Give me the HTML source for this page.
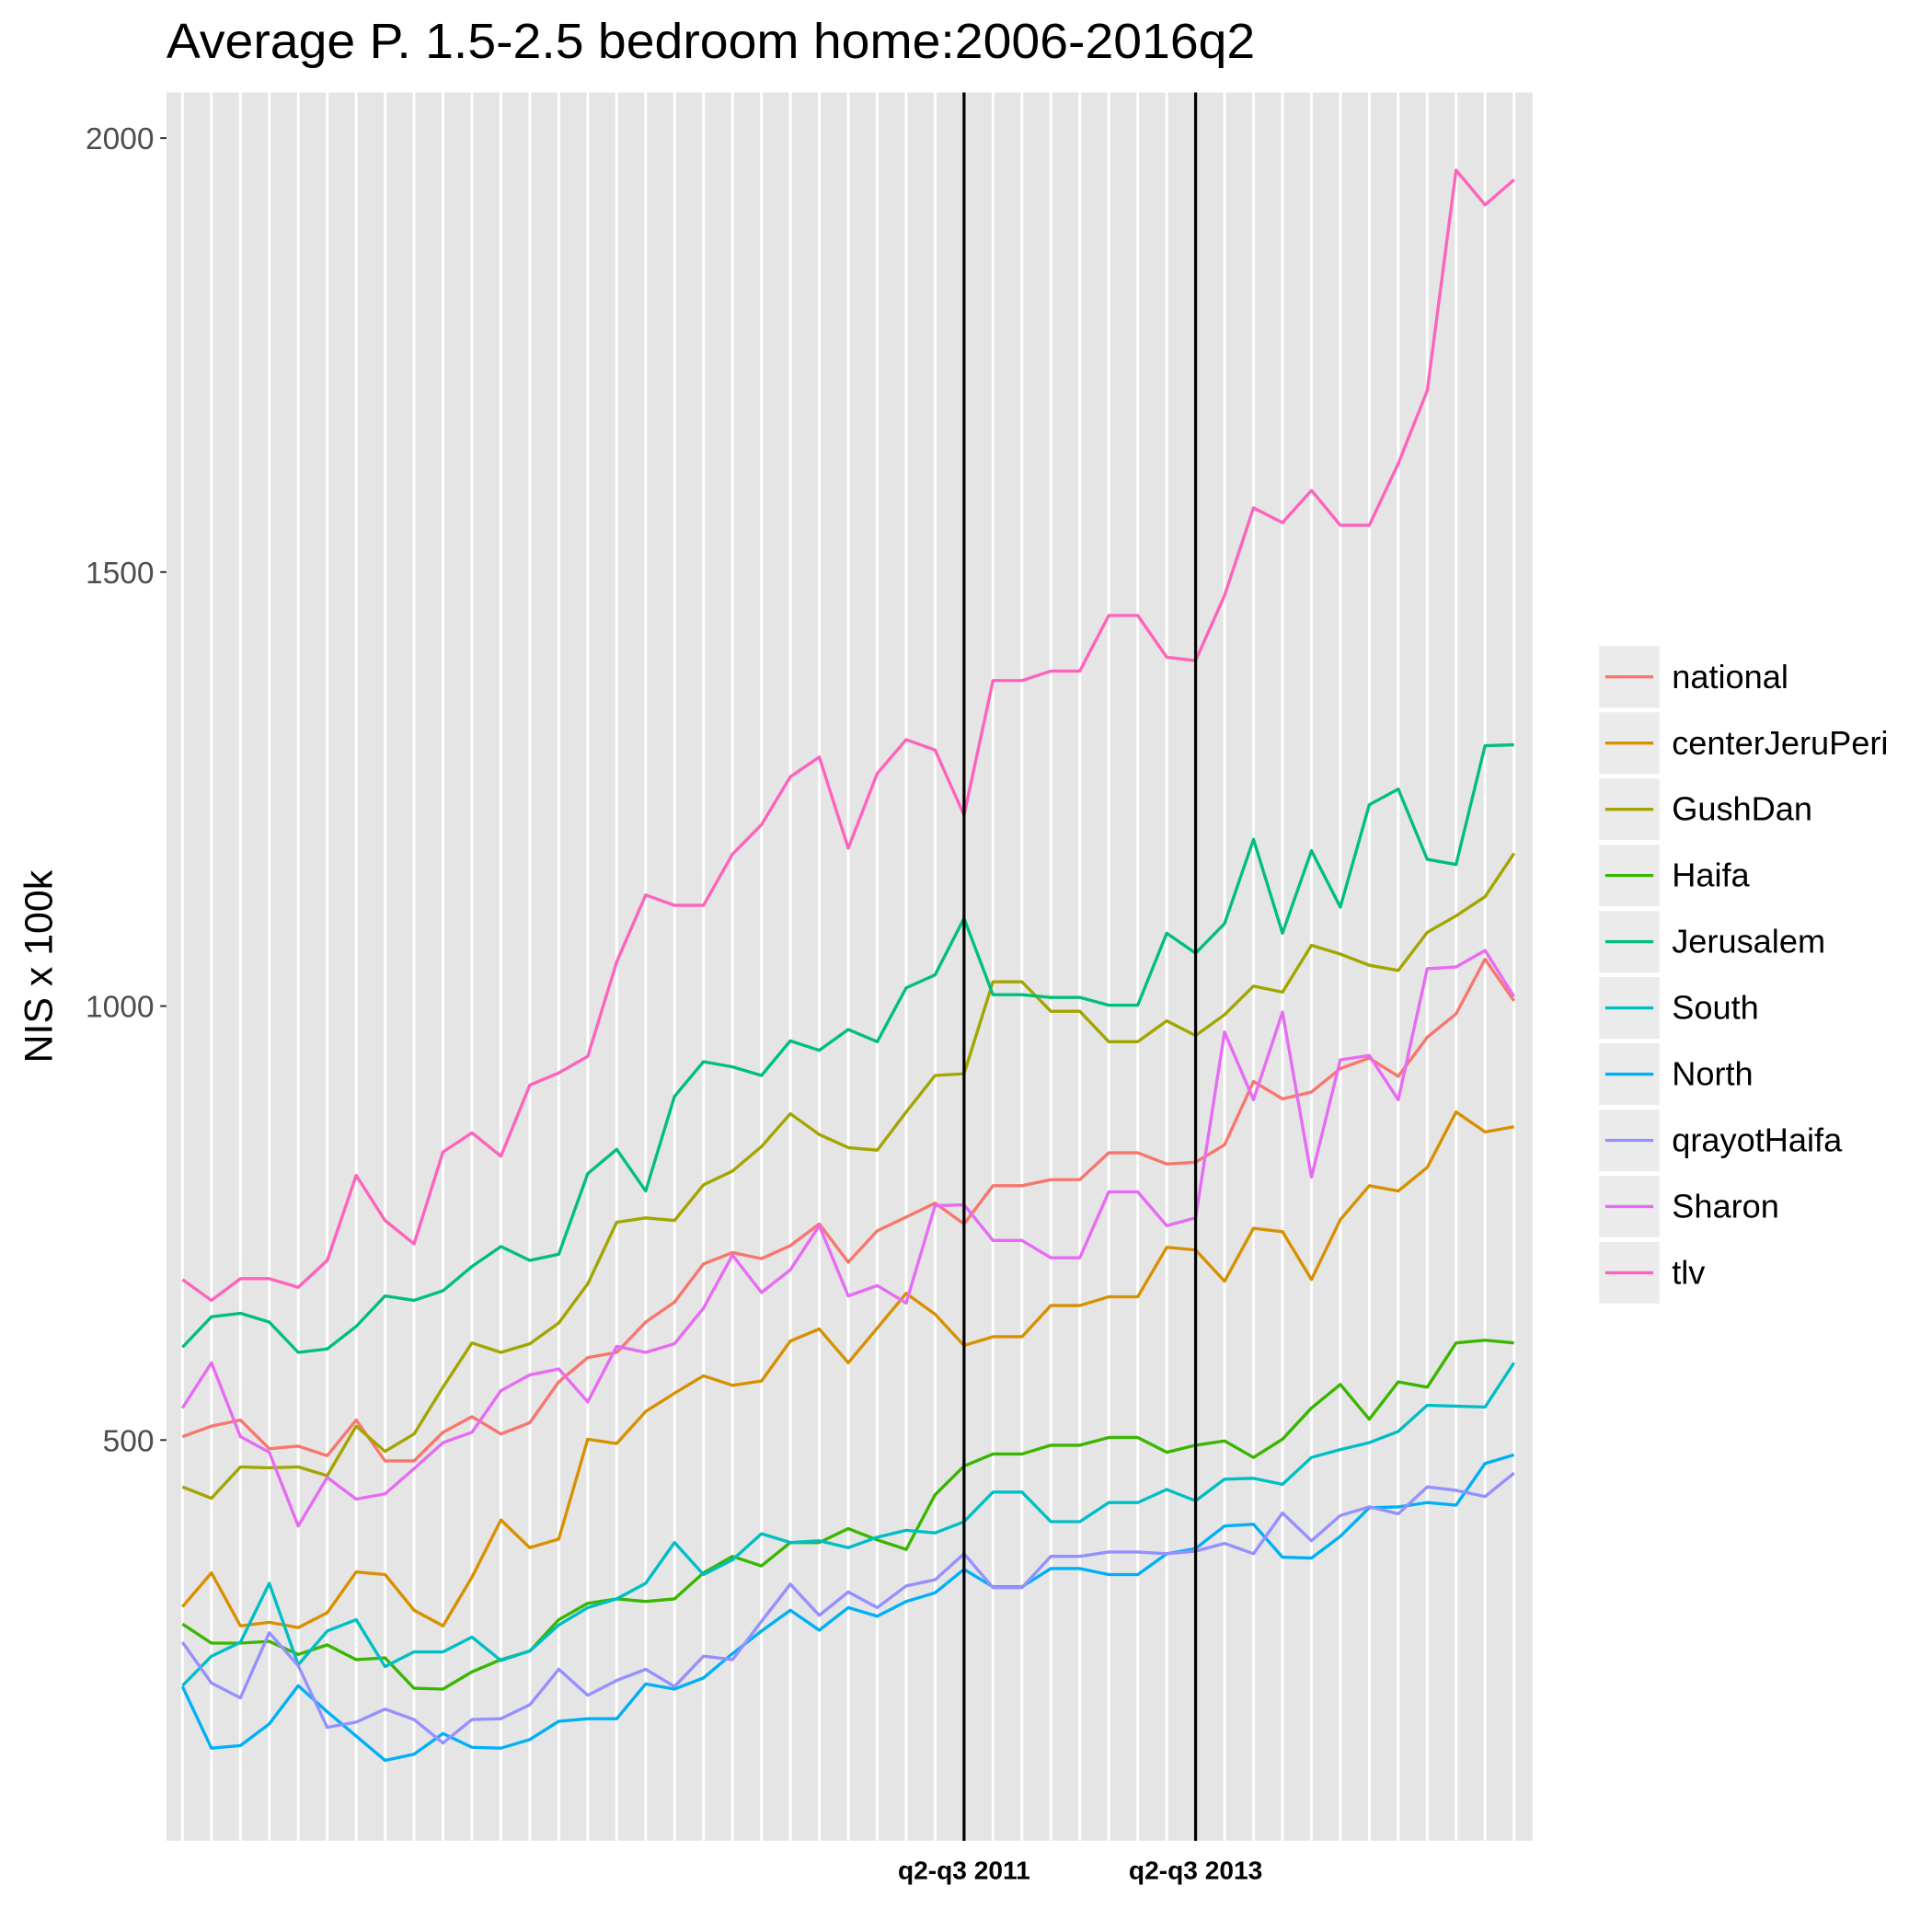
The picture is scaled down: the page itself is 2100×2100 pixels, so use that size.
<!DOCTYPE html>
<html><head><meta charset="utf-8"><style>html,body{margin:0;padding:0;background:#fff}svg{display:block}</style></head>
<body>
<svg id="chart" width="2100" height="2100" viewBox="0 0 1567 1567" xmlns="http://www.w3.org/2000/svg" font-family="Liberation Sans, Arial, sans-serif"></svg>
<script>
const seriesNames = ["national","centerJeruPeri","GushDan","Haifa","Jerusalem","South","North","qrayotHaifa","Sharon","tlv"];
const seriesColors = ["#F8766D","#D89000","#A3A500","#39B600","#00BF7D","#00BFC4","#00B0F6","#9590FF","#E76BF3","#FF62BC"];
const national = [504,516,523,490,493,482,523,476,476,509,527,507,520,567,595,601,636,659,703,716,709,724,749,705,741,757,773,749,793,793,800,800,831,831,818,820,840,913,893,901,928,940,919,964,991,1054,1006];
const centerJeruPeri = [308,347,286,290,284,301,348,345,304,286,342,408,376,386,501,496,533,554,574,563,568,614,628,589,629,669,645,609,619,619,655,655,665,665,722,719,683,744,740,685,754,793,787,814,878,855,861];
const gushDan = [446,433,469,468,469,459,516,487,507,561,612,601,611,635,680,751,756,753,794,810,838,876,852,837,834,878,920,922,1028,1028,994,994,959,959,983,966,990,1023,1016,1070,1060,1047,1041,1085,1104,1126,1176];
const haifa = [288,266,266,268,253,264,247,249,214,213,233,247,257,293,312,317,314,317,347,366,355,382,382,398,385,374,437,470,484,484,494,494,503,503,486,494,499,480,501,537,564,524,567,561,612,615,612];
const jerusalem = [607,642,646,636,601,605,631,666,661,672,700,723,707,714,807,835,787,896,936,930,920,960,949,973,959,1021,1036,1101,1013,1013,1010,1010,1001,1001,1084,1061,1095,1192,1084,1179,1114,1232,1250,1169,1163,1300,1301];
const south = [217,251,267,335,241,280,293,239,256,256,273,246,257,287,307,317,335,382,345,362,392,382,384,376,388,396,393,406,440,440,406,406,428,428,443,430,455,456,449,480,489,497,510,540,539,538,589];
const north = [216,145,148,173,217,187,159,131,138,162,146,145,155,176,179,179,219,213,226,254,280,304,281,307,297,314,324,351,331,331,352,352,345,345,369,375,401,403,365,364,389,422,423,428,425,473,483];
const qrayotHaifa = [267,220,203,278,240,169,175,190,178,151,178,179,195,236,206,223,236,216,251,247,291,334,298,325,307,332,339,369,330,330,366,366,371,371,369,372,381,369,416,384,413,423,415,446,442,435,462];
const sharon = [537,589,504,486,401,457,432,438,467,497,509,557,575,582,544,608,601,611,652,713,670,696,747,666,678,658,770,771,730,730,710,710,786,786,747,756,970,892,993,803,938,943,892,1043,1045,1064,1011];
const tlv = [685,661,686,686,676,707,805,753,726,832,854,827,909,923,942,1051,1128,1116,1116,1175,1209,1264,1287,1182,1268,1307,1295,1220,1375,1375,1386,1386,1450,1450,1402,1398,1473,1574,1557,1594,1554,1554,1625,1709,1963,1923,1952];
const yTicks = [500,1000,1500,2000];
const xLabels = {27:"q2-q3 2011",35:"q2-q3 2013"};
const vLineIdx = [27,35];

const allSeries = [national,centerJeruPeri,gushDan,haifa,jerusalem,south,north,qrayotHaifa,sharon,tlv];
const NS="http://www.w3.org/2000/svg";
const svg=document.getElementById('chart');
const P={l:135,r:1243,t:75,b:1493};
const n=national.length;
const x0=148,x1=1228;
function xs(i){return x0+(x1-x0)*i/(n-1);}
function ys(v){return 1168-(v-500)*0.704;}
function mk(tag,attrs,parent){const e=document.createElementNS(NS,tag);for(const k in attrs)e.setAttribute(k,attrs[k]);(parent||svg).appendChild(e);return e;}

let t=mk('text',{x:135,y:47,'font-size':40,fill:'#000',textLength:883,lengthAdjust:'spacingAndGlyphs'});


t.textContent="Average P. 1.5-2.5 bedroom home:2006-2016q2";

let bg=mk('rect',{x:P.l,y:P.t,width:P.r-P.l,height:P.b-P.t,fill:'#E5E5E5'});



for(let i=0;i<n;i++){
  const g=mk('line',{x1:xs(i),x2:xs(i),y1:P.t,y2:P.b,stroke:'#fff','stroke-width':2.2});
  
  
}
yTicks.forEach(v=>{
  const tk=mk('line',{x1:P.l-5,x2:P.l,y1:ys(v),y2:ys(v),stroke:'#333','stroke-width':1.5});
  
  
  const lb=mk('text',{x:P.l-10,y:ys(v)+9,'font-size':25,fill:'#4D4D4D','text-anchor':'end'});
  
  
  lb.textContent=v;
});

allSeries.forEach((s,k)=>{
  const d=s.map((v,i)=>(i?'L':'M')+xs(i).toFixed(1)+' '+ys(v).toFixed(1)).join(' ');
  const p=mk('path',{d:d,fill:'none',stroke:seriesColors[k],'stroke-width':2.5,'stroke-linejoin':'round'});
  
  
});

vLineIdx.forEach(i=>{
  const l=mk('line',{x1:xs(i),x2:xs(i),y1:P.t,y2:P.b,stroke:'#000','stroke-width':2.4});
  
  
});
for(const i in xLabels){
  const lb=mk('text',{x:xs(+i),y:1524,'font-size':21,'font-weight':'bold',fill:'#000','text-anchor':'middle'});
  
  
  lb.textContent=xLabels[i];
}

const yt=mk('text',{x:0,y:0,'font-size':32,fill:'#000','text-anchor':'middle',transform:'translate(42,784) rotate(-90)'});


yt.textContent="NIS x 100k";

seriesNames.forEach((nm,k)=>{
  const cy=549+k*53.7;
  const g=mk('g',{});
  
  
  mk('rect',{x:1297,y:cy-25,width:49,height:50,fill:'#EBEBEB'},g);
  mk('line',{x1:1302,x2:1341,y1:cy,y2:cy,stroke:seriesColors[k],'stroke-width':2.5},g);
  const tx=mk('text',{x:1356,y:cy+9,'font-size':27,fill:'#000'},g);
  tx.textContent=nm;
});
</script>
</body></html>
